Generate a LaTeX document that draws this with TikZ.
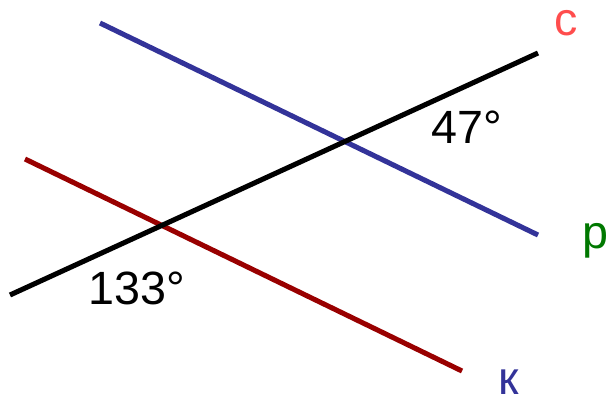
\documentclass[tikz,border=0pt]{standalone}
\usepackage{fontspec}
\setmainfont{Liberation Sans}
\usetikzlibrary{positioning}
\definecolor{lineblue}{RGB}{51,51,153}
\definecolor{linered}{RGB}{153,0,0}
\definecolor{labelred}{RGB}{255,77,77}
\definecolor{labelgreen}{RGB}{0,120,0}
\tikzset{
  straight/.style={line width=3.8pt},
  lbl/.style={anchor=base, inner sep=0pt, font=\fontsize{35}{38}\selectfont},
  small letter/.style={lbl, text height=0.55em, text depth=0pt}
}
\begin{document}
\begin{tikzpicture}[x=0.75pt, y=-0.75pt]
\useasboundingbox (0,0) rectangle (616,405);
% Line ends
\coordinate (c1) at (10,295);
\coordinate (c2) at (538,53);
\coordinate (p1) at (100,23);
\coordinate (p2) at (538,235);
\coordinate (k1) at (25,159);
\coordinate (k2) at (462,371);

% The three lines
\draw[straight, lineblue] (p1) -- (p2);
\draw[straight, linered] (k1) -- (k2);
\draw[straight, black] (c1) -- (c2);

% Line names
\node[small letter, text=labelred] (cname) at (566,35) {с};
\node[small letter, text=labelgreen] (pname) at (595,248) {р};
\node[small letter, text=lineblue] (kname) at (509,394) {к};

% Angles
\node[lbl] (upper) at (467,143) {47°};
\node[lbl] (lower) at (137,304) {133°};
\end{tikzpicture}
\end{document}
